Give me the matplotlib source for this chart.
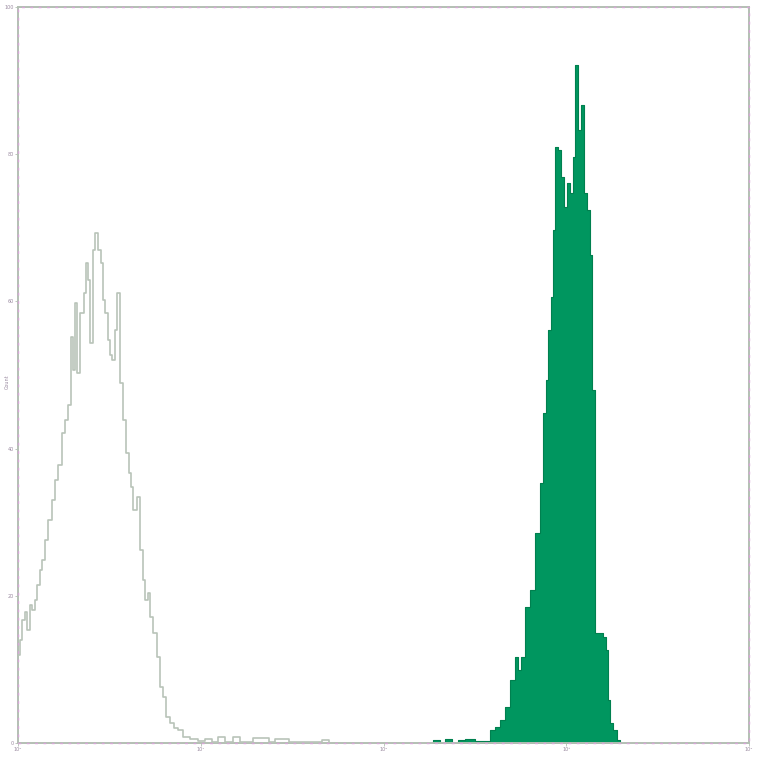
import matplotlib
matplotlib.use("Agg")
import matplotlib.pyplot as plt
from matplotlib.patches import Rectangle

# channel (0-256 linear scale of a 4-decade log axis) and relative counts (0-100)
ctrl_channel = [0, 0.7, 1.4, 2.5, 3.2, 4.2, 4.9, 6.0, 6.7, 7.7, 8.4, 9.5, 10.5, 11.9,
                13.0, 14.0, 15.4, 16.5, 17.5, 18.6, 19.3, 20.0, 20.7, 21.7, 23.1, 23.8,
                24.5, 25.2, 26.3, 27.0, 28.0, 29.1, 29.8, 30.5, 31.5, 32.2, 32.9, 34.0,
                34.7, 35.7, 36.8, 37.8, 38.9, 39.6, 40.3, 41.7, 42.7, 43.8, 44.5, 45.5,
                46.2, 47.3, 48.7, 49.7, 50.8, 51.8, 53.2, 54.6, 56.0, 57.8, 60.2, 63.0,
                65.5, 68.0, 70.0, 72.5, 75.3, 77.8, 82.3, 85.5, 88.0, 90.0, 95.0, 106.5,
                109.0]
ctrl_count = [12.0, 14.0, 16.7, 17.8, 15.4, 18.8, 18.1, 19.4, 21.5, 23.5, 24.9, 27.6,
              30.3, 33.0, 35.7, 37.8, 42.1, 43.9, 45.9, 55.2, 50.7, 59.8, 50.3, 58.4,
              61.1, 65.2, 62.9, 54.3, 67.0, 69.3, 67.0, 65.2, 60.2, 58.4, 54.8, 52.7,
              52.0, 56.1, 61.1, 48.9, 43.9, 39.4, 36.7, 34.8, 31.7, 33.4, 26.2, 22.1,
              19.4, 20.4, 17.1, 14.9, 11.7, 7.6, 6.3, 3.5, 2.7, 2.0, 1.8, 0.8, 0.5, 0.3,
              0.5, 0.1, 0.8, 0.1, 0.8, 0.1, 0.7, 0.7, 0.1, 0.5, 0.1, 0.4, 0.0]

stain_channel = [145.4, 147.8, 149.6, 152.0, 154.0, 156.6, 160.0, 163.6, 165.3, 167.1,
                 168.8, 170.6, 172.3, 174.1, 175.1, 176.2, 177.6, 179.3, 181.1, 182.8,
                 183.9, 184.9, 185.6, 186.7, 187.4, 188.1, 189.1, 190.2, 191.2, 192.3,
                 193.3, 194.4, 195.1, 196.1, 197.2, 198.2, 199.3, 200.4, 201.1, 202.1,
                 203.9, 204.9, 206.0, 206.7, 207.4, 208.4, 209.8, 210.9]
stain_count = [0.4, 0.0, 0.5, 0.0, 0.4, 0.5, 0.3, 0.3, 1.8, 2.2, 3.1, 4.9, 8.6, 11.7,
               9.9, 11.7, 18.5, 20.8, 28.5, 35.3, 44.8, 49.3, 56.1, 60.6, 69.7, 81.0,
               80.6, 76.9, 72.8, 76.1, 74.7, 79.6, 92.1, 83.3, 86.7, 74.7, 72.4, 66.3,
               48.0, 14.9, 14.9, 14.4, 12.6, 5.8, 2.7, 1.8, 0.4, 0.0]

x_ticks = [0, 64, 128, 192, 256]
x_tick_labels = ["10⁰", "10¹", "10²", "10³", "10⁴"]
y_ticks = [0, 20, 40, 60, 80, 100]
y_tick_labels = ["0", "20", "40", "60", "80", "100"]

fig = plt.figure(figsize=(7.6, 7.64), dpi=100)
ax = fig.add_axes([18 / 760, 21 / 764, 731 / 760, 736 / 764])
ax.set_xlim(0, 256)
ax.set_ylim(0, 100)

ax.fill_between(stain_channel, stain_count, step="post",
                facecolor="#00965f", edgecolor="#00804f", linewidth=0.8, zorder=2)
ax.step(ctrl_channel, ctrl_count, where="post", color="#b9c4b9",
        linewidth=1.2, zorder=3)

for s in ax.spines.values():
    s.set_color("#b3bfb3")
    s.set_linewidth(1.4)
ax.add_patch(Rectangle((0, 0), 1, 1, transform=ax.transAxes, fill=False,
                       edgecolor="#d7a6d7", linewidth=1.0, linestyle=(0, (2, 4)),
                       zorder=5, clip_on=False))

ax.set_xticks(x_ticks)
ax.set_xticklabels(x_tick_labels)
ax.set_yticks(y_ticks)
ax.set_yticklabels(y_tick_labels)
ax.tick_params(axis="both", length=2, width=0.6, color="#b3bfb3",
               labelsize=3.5, labelcolor="#9a8aa0", pad=1)
fig.text(0.009, 0.5, "Count", rotation=90, ha="center", va="center",
         fontsize=3.5, color="#9a8aa0")

fig.savefig("out.png", dpi=100, facecolor="white")
